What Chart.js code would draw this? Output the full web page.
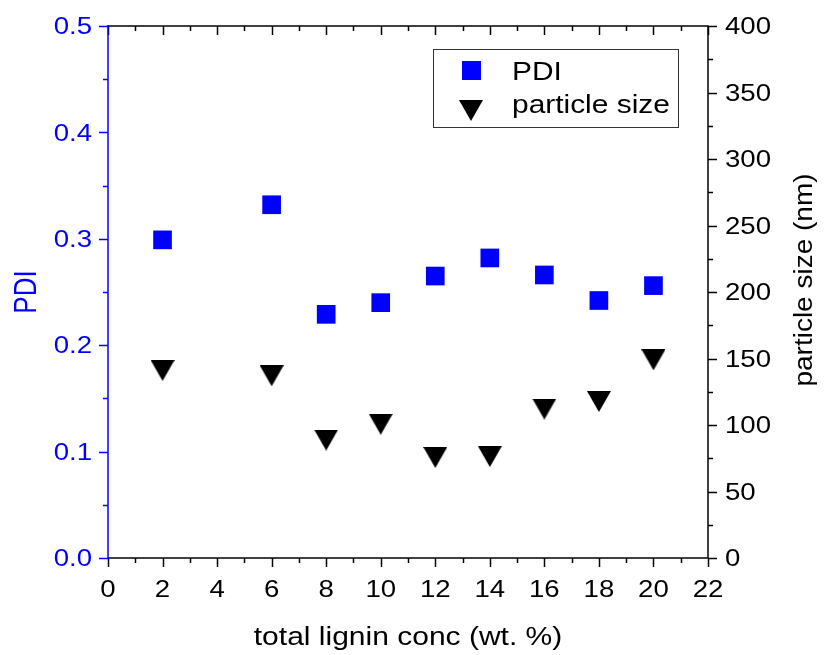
<!DOCTYPE html>
<html>
<head>
<meta charset="utf-8">
<title>PDI and particle size</title>
<script src="https://cdn.jsdelivr.net/npm/chart.js@4.4.1/dist/chart.umd.min.js"></script>
<style>
  html, body { margin: 0; padding: 0; background: #fff; }
  #wrap { width: 824px; height: 655px; }
</style>
</head>
<body>
<div id="wrap"><canvas id="chart" width="824" height="655"></canvas></div>
<script>
// data
const concentrations = [2, 6, 8, 10, 12, 14, 16, 18, 20];
const pdiValues = [0.299, 0.332, 0.229, 0.240, 0.265, 0.282, 0.266, 0.242, 0.256];
const particleSizes = [141, 137, 88.7, 100.6, 75.6, 76.3, 112, 117.7, 149];

// tick labels
const xTicks = [0, 2, 4, 6, 8, 10, 12, 14, 16, 18, 20, 22];
const pdiTicks = [0, 0.1, 0.2, 0.3, 0.4, 0.5];
const sizeTicks = [0, 50, 100, 150, 200, 250, 300, 350, 400];

const BLUE = '#0000ff';
const FONT = '"Liberation Sans", Arial, sans-serif';
const STRETCH = 1.2; // text in the figure is wider than normal Arial

// down triangle marker as a small canvas so it sits centred on the value
function makeTriangle(w, h) {
  const c = document.createElement('canvas');
  c.width = w; c.height = h;
  const g = c.getContext('2d');
  g.fillStyle = '#000';
  g.beginPath();
  g.moveTo(0, 0);
  g.lineTo(w, 0);
  g.lineTo(w / 2, h);
  g.closePath();
  g.fill();
  return c;
}
const triangle = makeTriangle(24, 21);

function text(ctx, s, x, y, size, color, align, sx, rot) {
  ctx.save();
  ctx.translate(x, y);
  ctx.scale(sx, 1);
  if (rot) ctx.rotate(rot);
  ctx.font = size + 'px ' + FONT;
  ctx.fillStyle = color;
  ctx.textAlign = align;
  ctx.textBaseline = 'alphabetic';
  ctx.fillText(s, 0, 0);
  ctx.restore();
}

function line(ctx, x1, y1, x2, y2, color, w) {
  ctx.strokeStyle = color;
  ctx.lineWidth = w;
  ctx.beginPath();
  ctx.moveTo(x1, y1);
  ctx.lineTo(x2, y2);
  ctx.stroke();
}

const axesPlugin = {
  id: 'originAxes',
  beforeDatasetsDraw(chart) {
    const ctx = chart.ctx;
    const a = chart.chartArea;
    const sx = chart.scales.x, yl = chart.scales.y, yr = chart.scales.y1;
    ctx.save();
    ctx.lineCap = 'butt';

    // x ticks, bottom outward, top inward, minor every 1
    for (let v = 0; v <= 22; v += 1) {
      const px = Math.round(sx.getPixelForValue(v)) + 0.5;
      const len = v % 2 === 0 ? 9 : 5;
      line(ctx, px, a.bottom, px, a.bottom + len, '#000', 1.5);
      line(ctx, px, a.top, px, a.top + len, '#000', 1.5);
    }
    // left ticks (blue), minor every 0.05
    for (let i = 0; i <= 10; i++) {
      const py = Math.round(yl.getPixelForValue(i * 0.05)) + 0.5;
      const len = i % 2 === 0 ? 9 : 5;
      line(ctx, a.left, py, a.left - len, py, BLUE, 1.5);
    }
    // right ticks, minor every 25
    for (let v = 0; v <= 400; v += 25) {
      const py = Math.round(yr.getPixelForValue(v)) + 0.5;
      const len = v % 50 === 0 ? 9 : 5;
      line(ctx, a.right, py, a.right + len, py, '#000', 1.5);
    }

    // frame
    line(ctx, a.left - 0.5, a.top, a.right + 0.75, a.top, '#000', 1.5);
    line(ctx, a.right, a.top, a.right, a.bottom, '#000', 1.5);
    line(ctx, a.left, a.bottom, a.right + 0.75, a.bottom, '#000', 1.5);
    line(ctx, a.left, a.top - 0.75, a.left, a.bottom + 0.75, BLUE, 1.5);

    // tick labels
    xTicks.forEach(v => {
      text(ctx, String(v), sx.getPixelForValue(v), 596.5, 23, '#000', 'center', STRETCH);
    });
    pdiTicks.forEach(v => {
      text(ctx, v.toFixed(1), 92, yl.getPixelForValue(v) + 8.2, 23, BLUE, 'right', STRETCH);
    });
    sizeTicks.forEach(v => {
      text(ctx, String(v), 725, yr.getPixelForValue(v) + 8.2, 23, '#000', 'left', STRETCH);
    });

    // axis titles
    text(ctx, 'total lignin conc (wt. %)', (a.left + a.right) / 2, 645, 25, '#000', 'center', STRETCH);
    text(ctx, 'PDI', 36, 292, 26, BLUE, 'center', STRETCH, -Math.PI / 2);
    text(ctx, 'particle size (nm)', 811.5, 280, 28, '#000', 'center', 0.92, -Math.PI / 2);
    ctx.restore();
  },
  afterDraw(chart) {
    // legend box inside the plot, top right
    const ctx = chart.ctx;
    ctx.save();
    ctx.fillStyle = '#fff';
    ctx.fillRect(433, 49, 245, 79);
    ctx.strokeStyle = '#333';
    ctx.lineWidth = 1;
    ctx.strokeRect(433.5, 49.5, 245, 78);
    ctx.fillStyle = BLUE;
    ctx.fillRect(462, 61, 19, 19);
    ctx.drawImage(triangle, 459, 100);
    const sets = chart.data.datasets;
    text(ctx, sets[0].label, 512, 80, 26, '#000', 'left', 1.15);
    text(ctx, sets[1].label, 512, 113, 26, '#000', 'left', 1.15);
    ctx.restore();
  }
};

new Chart(document.getElementById('chart'), {
  type: 'scatter',
  data: {
    datasets: [
      {
        label: 'PDI',
        data: concentrations.map((x, i) => ({ x: x, y: pdiValues[i] })),
        yAxisID: 'y',
        pointStyle: 'rect',
        pointRadius: 13.2,
        pointHoverRadius: 13.2,
        pointBorderWidth: 0,
        backgroundColor: BLUE,
        borderColor: BLUE
      },
      {
        label: 'particle size',
        data: concentrations.map((x, i) => ({ x: x, y: particleSizes[i] })),
        yAxisID: 'y1',
        pointStyle: triangle,
        pointRadius: 12,
        pointBorderWidth: 0,
        backgroundColor: '#000',
        borderColor: '#000'
      }
    ]
  },
  options: {
    responsive: false,
    animation: false,
    devicePixelRatio: 1,
    layout: { padding: { left: 108, right: 116, top: 26, bottom: 97 } },
    plugins: { legend: { display: false }, tooltip: { enabled: false } },
    events: [],
    scales: {
      x: { type: 'linear', min: 0, max: 22, display: false, ticks: { stepSize: 2 } },
      y: { type: 'linear', position: 'left', min: 0, max: 0.5, display: false, ticks: { stepSize: 0.1 } },
      y1: { type: 'linear', position: 'right', min: 0, max: 400, display: false, ticks: { stepSize: 50 } }
    }
  },
  plugins: [axesPlugin]
});
</script>
</body>
</html>
